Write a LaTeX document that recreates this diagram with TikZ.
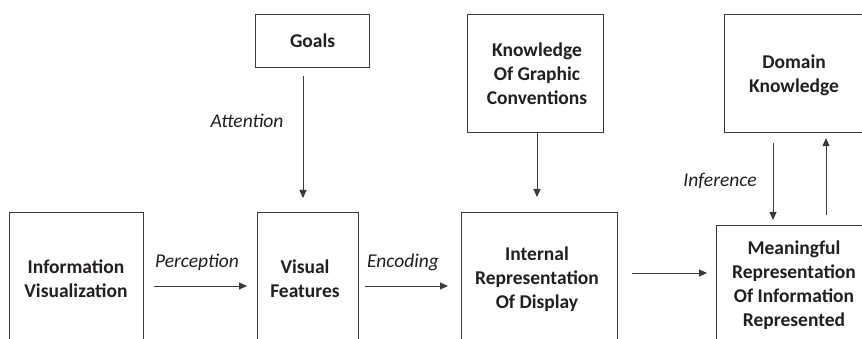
\documentclass[tikz,border=0pt]{standalone}
\usepackage{fontspec}
\setmainfont{Carlito}
\usetikzlibrary{arrows.meta}
\definecolor{ink}{HTML}{231F20}
\definecolor{edge}{HTML}{3A3A3A}
\tikzset{
  box/.style={draw=edge, line width=1.1pt, rectangle, inner sep=0pt, anchor=north west},
  txt/.style={font=\fontsize{19.5}{24.2}\selectfont\bfseries, text=ink, align=center, inner sep=0pt},
  lbl/.style={font=\fontsize{19.5}{24}\selectfont\itshape, text=ink, inner sep=0pt},
  arr/.style={draw=edge, line width=0.9pt, -{Triangle[length=8pt,width=7pt]}},
}
\begin{document}
\begin{tikzpicture}[x=1pt,y=-1pt]
\useasboundingbox (0,0) rectangle (862,339);
\fill[white] (0,0) rectangle (862,339);
\clip (0,0) rectangle (862,339);
% boxes
\node[box, minimum width=134, minimum height=160] (iv) at (9,212) {};
\node[box, minimum width=101, minimum height=160] (vf) at (257,212) {};
\node[box, minimum width=156, minimum height=160] (ir) at (461,212) {};
\node[box, minimum width=170, minimum height=160] (mr) at (716,225) {};
\node[box, minimum width=114, minimum height=53] (goals) at (255,14) {};
\node[box, minimum width=136, minimum height=118] (kgc) at (467,14) {};
\node[box, minimum width=160, minimum height=118] (dk) at (724,14) {};
% texts
\node[txt] (tiv) at (76,279) {Information\\Visualization};
\node[txt] (tvf) at (305,279) {Visual\\Features};
\node[txt] (tir) at (537,279) {Internal\\Representation\\Of Display};
\node[txt] (tmr) at (794,285) {Meaningful\\Representation\\Of Information\\Represented};
\node[txt] (tgoals) at (goals.center) {Goals};
\node[txt] (tkgc) at (537,74) {Knowledge\\Of Graphic\\Conventions};
\node[txt] (tdk) at (794,75) {Domain\\Knowledge};
% labels
\node[lbl] (lat) at (247,121) {Attention};
\node[lbl] (lpe) at (197,262) {Perception};
\node[lbl] (len) at (403,262) {Encoding};
\node[lbl] (lin) at (720,181) {Inference};
% arrows
\draw[arr, shorten <=8pt, shorten >=14pt] (goals.south -| 303,0) -- (vf.north -| 303,0);
\draw[arr, shorten <=10pt, shorten >=10pt] (iv.east |- 0,286) -- (vf.west |- 0,286);
\draw[arr, shorten <=6pt, shorten >=13pt] (vf.east |- 0,286) -- (ir.west |- 0,286);
\draw[arr, shorten <=0pt, shorten >=15pt] (kgc.south -| 537,0) -- (ir.north -| 537,0);
\draw[arr, shorten <=14pt, shorten >=9pt] (ir.east |- 0,273) -- (mr.west |- 0,273);
\draw[arr, shorten <=10pt, shorten >=5pt] (dk.south -| 773,0) -- (mr.north -| 773,0);
\draw[arr, shorten <=10pt, shorten >=5pt] (mr.north -| 826,0) -- (dk.south -| 826,0);
\end{tikzpicture}
\end{document}
